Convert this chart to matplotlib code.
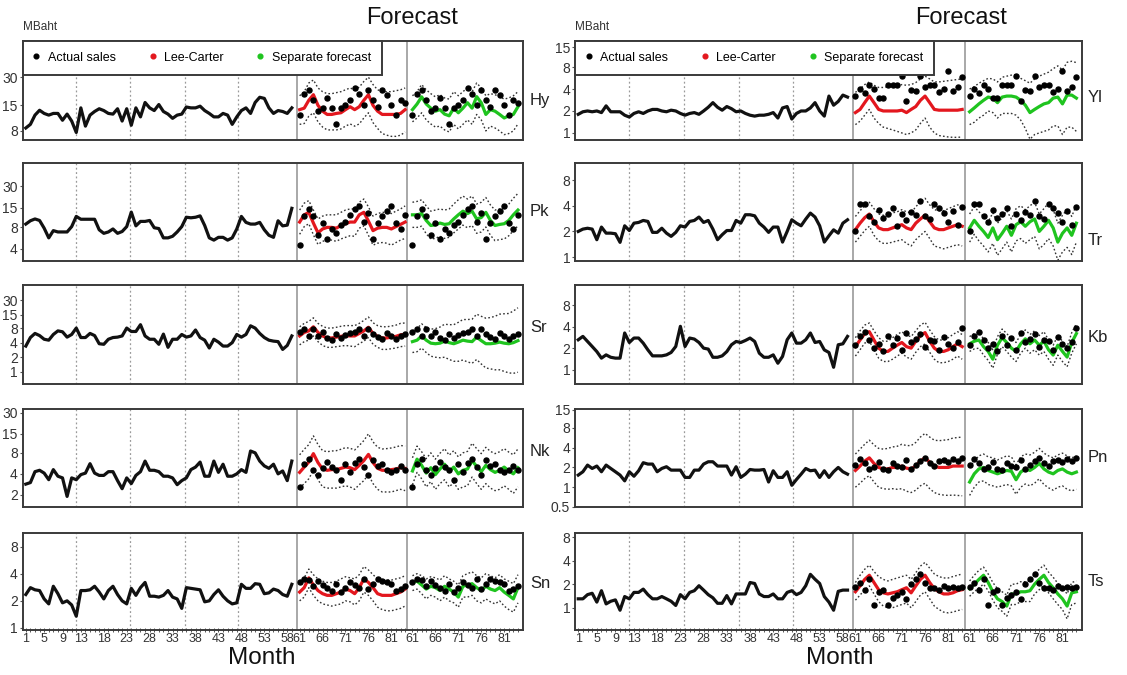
import numpy as np
import matplotlib
matplotlib.use("Agg")
import matplotlib.pyplot as plt
from matplotlib.lines import Line2D
from matplotlib.ticker import NullLocator, FixedLocator

# ---------------- data (MBaht) ----------------
hist_months = list(range(1, 60))
fc_months = list(range(61, 85))

hy_hist = [8.6, 9.4, 11.8, 13.3, 12.3, 11.8, 12.3, 12.3, 10.4, 12.1, 10.2, 7.7, 14.1, 9.0, 11.8, 12.9, 13.8, 13.2, 12.3, 12.1,
           13.8, 10.2, 13.8, 9.2, 14.1, 11.3, 16.1, 14.1, 13.2, 15.3, 12.9, 12.1, 10.9, 11.8, 12.1, 14.4, 14.1, 14.1, 14.7, 13.2,
           12.3, 11.3, 11.3, 12.3, 11.8, 9.4, 11.3, 13.2, 14.1, 12.3, 16.1, 18.3, 17.8, 14.1, 12.3, 13.2, 12.9, 12.3, 14.1]
hy_act = [11.7, 20, 22, 17, 13, 14, 18, 14, 9.4, 14, 15, 17, 23, 20, 15, 22, 17, 14.4, 22, 19.5, 15, 11.7, 17, 16]
hy_lc = [13.5, 14, 17, 19.5, 15, 13, 12, 12, 12.3, 12.5, 13.5, 14.5, 13.5, 14.5, 17, 19.5, 15, 13, 12, 12, 12, 12, 12.3, 13.5]
hy_lc_hi = [19, 21, 26, 28, 23, 21, 20, 20, 20.5, 21, 22, 23, 22, 23.5, 27, 30, 25, 22, 21, 21, 21, 21.5, 22, 23]
hy_lc_lo = [9.4, 9.6, 11.5, 12.5, 10, 8.8, 8.2, 8.2, 8.2, 8.4, 9, 9.5, 9, 9.5, 11, 12.5, 9.8, 8.5, 7.5, 7.2, 7.0, 7.0, 7.2, 7.8]
hy_sep = [13.5, 15.5, 18.5, 15.5, 14, 13, 13.5, 12.1, 11.6, 14, 12.5, 14, 16, 14, 18.6, 16, 12, 13.5, 13, 12, 11, 11.6, 12, 14.5]
hy_sep_hi = [19, 21, 25, 22, 20, 18.5, 19.5, 18, 17.5, 21, 19, 21, 23, 21, 26, 23, 19, 20, 19.5, 18.5, 17.5, 18, 19, 21]
hy_sep_lo = [10, 11, 12.5, 10.5, 9.5, 8.8, 9, 8.2, 7.8, 9.4, 8.4, 9.4, 10.5, 9.4, 12, 10.5, 8, 9, 8.6, 8, 7.3, 7.5, 8, 9.5]

pk_hist = [8.9, 9.9, 10.5, 10.0, 7.8, 5.7, 7.2, 6.9, 6.9, 6.9, 8.2, 11.4, 10.4, 10.4, 10.4, 10.4, 7.4, 6.6, 6.9, 7.6,
           6.6, 7.0, 8.2, 13.1, 8.4, 9.7, 9.7, 10.0, 7.9, 7.7, 5.7, 5.7, 6.0, 6.9, 8.2, 11.1, 10.9, 11.1, 11.6, 8.5,
           5.7, 5.3, 5.8, 5.8, 5.3, 5.7, 7.6, 11.4, 9.4, 8.9, 8.9, 9.4, 7.4, 6.2, 5.8, 9.9, 8.4, 8.6, 14.8]
pk_act = [4.5, 11.5, 14.5, 11.5, 6.3, 9.2, 5.5, 7.6, 6.7, 8.5, 9.6, 12, 14.5, 16, 9.6, 12.7, 5.5, 9.2, 11.5, 13.5, 16, 9.2, 7.6, 12]
pk_lc = [9.5, 12, 13, 9.2, 6.7, 7.6, 8, 8, 7.8, 8.5, 9, 9.5, 9.5, 12, 13, 9.8, 7.2, 7.8, 8, 8, 7.6, 8.2, 8.8, 9.5]
pk_lc_hi = [14, 17.5, 19, 14, 10.5, 11.5, 12, 12, 12, 13, 14, 14.5, 14.5, 18, 20, 15.5, 11.5, 12.5, 13, 13, 12.5, 13.5, 14.5, 16]
pk_lc_lo = [6.4, 8.2, 9, 6.3, 4.6, 5.1, 5.3, 5.3, 5.1, 5.5, 5.8, 6.1, 6, 7.8, 8.4, 6.2, 4.5, 4.8, 4.9, 4.8, 4.5, 4.9, 5.3, 5.6]
pk_sep = [12, 12, 12.5, 10, 8.5, 8.7, 9.2, 8.8, 9.0, 10.5, 12, 13.5, 12.5, 13.5, 10.5, 11, 13, 10, 8.5, 8.8, 9, 10, 12, 14]
pk_sep_hi = [18, 18.5, 19.5, 16, 13.5, 14, 14.5, 14, 14.5, 17, 19.5, 22, 20, 22, 17, 18, 21, 16.5, 14, 14.5, 15, 17, 20.5, 24]
pk_sep_lo = [8, 8, 8.3, 6.5, 5.5, 5.6, 6, 5.6, 5.8, 6.7, 7.6, 8.6, 7.9, 8.5, 6.6, 6.9, 8.1, 6.2, 5.2, 5.4, 5.5, 6.1, 7.2, 8.4]

sr_hist = [3.4, 5.1, 6.2, 5.6, 4.7, 4.5, 5.9, 7.0, 6.7, 5.2, 5.9, 8.0, 5.1, 5.1, 6.2, 5.6, 3.8, 3.7, 4.7, 5.1,
           5.2, 5.5, 8.0, 6.8, 6.8, 9.4, 5.5, 4.7, 4.7, 3.7, 6.0, 3.2, 4.7, 4.7, 5.9, 5.2, 5.5, 7.3, 5.1, 4.5,
           3.1, 4.7, 4.1, 3.4, 3.4, 4.0, 5.9, 5.2, 5.9, 8.9, 8.0, 6.2, 5.1, 4.5, 4.3, 4.2, 2.9, 3.5, 5.5]
sr_act = [6.5, 7.5, 5.5, 7.5, 5.5, 6.5, 5, 4.5, 6, 5, 5.8, 6.2, 6.5, 7.5, 5.5, 7.5, 6, 5.2, 4.8, 6.3, 5.5, 4.8, 5.5, 6]
sr_lc = [5.5, 6.5, 7, 8.5, 6.5, 5.5, 5, 5, 5.2, 5.4, 5.6, 5.5, 5.5, 6.2, 7, 8.3, 6.2, 5.4, 5, 5, 5.2, 5.4, 5.8, 5.9]
sr_lc_hi = [8.5, 10, 11, 13, 10, 8.7, 8, 8, 8.3, 8.7, 9, 9, 9, 10, 11.5, 13.5, 10.3, 9, 8.5, 8.5, 8.8, 9.2, 10, 10.2]
sr_lc_lo = [3.6, 4.2, 4.5, 5.5, 4.2, 3.5, 3.2, 3.2, 3.3, 3.4, 3.5, 3.4, 3.3, 3.8, 4.3, 5.1, 3.7, 3.2, 2.9, 2.9, 3.0, 3.1, 3.3, 3.4]
sr_sep = [4.2, 4.5, 5.5, 4.5, 3.9, 3.8, 3.9, 4.3, 4.0, 3.8, 4.1, 4.5, 4.3, 4.2, 5.2, 4.4, 3.8, 3.8, 3.9, 4.1, 3.9, 3.8, 4.0, 4.4]
sr_sep_hi = [7, 7.8, 9.8, 8.2, 7.6, 7.8, 8.4, 9.6, 9.4, 9.4, 10.5, 12, 12, 12.2, 15.5, 14, 12.8, 13.2, 14, 15.5, 15.8, 16, 18, 21]
sr_sep_lo = [2.5, 2.6, 3.1, 2.5, 2.1, 2.0, 1.95, 2.0, 1.8, 1.65, 1.65, 1.75, 1.6, 1.5, 1.8, 1.45, 1.2, 1.15, 1.1, 1.1, 1.02, 0.95, 0.93, 0.98]

nk_hist = [2.85, 3.0, 4.3, 4.5, 4.1, 3.3, 4.6, 3.7, 3.5, 1.9, 3.5, 3.3, 3.9, 4.1, 5.6, 4.1, 3.8, 3.8, 4.3, 4.3,
           3.2, 2.45, 3.5, 2.9, 3.8, 4.3, 6.1, 4.5, 4.5, 4.3, 3.7, 3.7, 3.5, 2.8, 3.2, 3.5, 4.6, 5.0, 5.9, 3.7,
           3.7, 6.1, 4.2, 5.5, 3.7, 3.7, 4.0, 4.6, 4.2, 8.5, 8.0, 6.1, 5.2, 4.8, 5.5, 4.0, 4.4, 3.2, 6.1]
nk_act = [2.6, 5.5, 6.5, 4.5, 3.8, 4.8, 6, 5, 4.6, 3.3, 5.5, 4.2, 5.8, 6.5, 5, 3.8, 6.3, 5.2, 5.5, 4.5, 4.3, 4.5, 5.2, 4.6]
nk_lc = [4.2, 5, 5.9, 7.8, 5.8, 4.7, 4.5, 4.6, 4.6, 4.8, 5.0, 4.9, 4.6, 5.3, 6.2, 7.6, 5.8, 4.8, 4.5, 4.5, 4.6, 4.7, 4.9, 4.8]
nk_lc_hi = [7.5, 9, 10.5, 14, 10.5, 8.6, 8.3, 8.5, 8.6, 9, 9.5, 9.3, 8.8, 10.2, 12, 15, 11.5, 9.6, 9.1, 9.2, 9.4, 9.7, 10.2, 10]
nk_lc_lo = [2.5, 2.9, 3.4, 4.5, 3.3, 2.6, 2.5, 2.5, 2.5, 2.6, 2.7, 2.6, 2.4, 2.8, 3.2, 3.9, 2.9, 2.4, 2.2, 2.2, 2.2, 2.3, 2.4, 2.3]
nk_sep = [4.4, 6.5, 5.3, 4.1, 4.9, 3.9, 4.7, 5.5, 4.3, 5.0, 4.0, 4.5, 4.7, 6.2, 5.1, 4.3, 5.3, 4.6, 4.2, 4.5, 5.0, 4.4, 4.0, 4.9]
nk_sep_hi = [6.8, 10, 8.3, 6.6, 8, 6.5, 7.9, 9.2, 7.4, 8.6, 7, 8, 8.4, 11, 9.2, 7.8, 9.6, 8.4, 7.8, 8.3, 9.2, 8.2, 7.5, 9.1]
nk_sep_lo = [2.8, 4.2, 3.4, 2.6, 3.1, 2.4, 2.9, 3.3, 2.6, 3.0, 2.4, 2.6, 2.7, 3.6, 2.9, 2.4, 2.9, 2.5, 2.3, 2.4, 2.7, 2.4, 2.1, 2.6]

sn_hist = [2.35, 2.8, 2.65, 2.6, 2.1, 1.85, 2.9, 2.4, 1.9, 2.0, 1.8, 1.35, 2.6, 2.6, 2.65, 2.9, 2.5, 2.1, 2.6, 2.9,
           2.35, 2.0, 1.85, 2.75, 2.3, 2.8, 3.2, 2.25, 2.25, 2.2, 2.3, 2.6, 2.2, 2.1, 1.65, 2.8, 2.75, 2.7, 2.65, 1.95,
           2.0, 2.35, 2.65, 2.25, 2.0, 1.85, 1.9, 3.05, 2.75, 2.75, 3.1, 3.05, 2.4, 2.45, 2.7, 2.6, 2.35, 2.25, 3.05]
sn_act = [3.2, 3.5, 3.4, 2.9, 3.3, 3.0, 2.8, 2.6, 3.1, 2.5, 2.8, 3.2, 3.0, 2.8, 3.5, 2.7, 3.1, 3.5, 3.3, 3.2, 3.1, 2.6, 2.7, 2.9]
sn_lc = [2.5, 2.8, 3.6, 3.0, 2.6, 2.4, 2.3, 2.3, 2.4, 2.5, 2.7, 2.6, 2.4, 2.8, 3.5, 3.2, 2.8, 2.4, 2.3, 2.3, 2.3, 2.4, 2.5, 2.7]
sn_lc_hi = [3.2, 3.6, 4.5, 3.9, 3.5, 3.3, 3.2, 3.2, 3.3, 3.5, 3.7, 3.6, 3.5, 3.9, 4.8, 4.4, 3.9, 3.5, 3.4, 3.4, 3.4, 3.5, 3.6, 3.8]
sn_lc_lo = [2.0, 2.2, 2.8, 2.3, 2.0, 1.85, 1.8, 1.75, 1.8, 1.85, 2.0, 1.95, 1.8, 2.0, 2.5, 2.3, 2.0, 1.7, 1.6, 1.55, 1.55, 1.6, 1.65, 1.75]
sn_sep = [3.2, 3.3, 3.0, 2.7, 2.9, 2.8, 2.6, 2.9, 2.7, 2.5, 2.2, 2.9, 3.0, 3.1, 2.8, 2.6, 2.9, 2.7, 2.6, 2.8, 2.5, 2.3, 2.1, 2.8]
sn_sep_hi = [3.8, 4.0, 3.8, 3.5, 3.7, 3.6, 3.4, 3.8, 3.5, 3.3, 3.0, 3.8, 4.0, 4.2, 3.8, 3.6, 4.0, 3.8, 3.6, 3.9, 3.5, 3.3, 3.1, 3.9]
sn_sep_lo = [2.6, 2.7, 2.4, 2.1, 2.3, 2.2, 2.0, 2.2, 2.0, 1.9, 1.7, 2.2, 2.2, 2.3, 2.0, 1.9, 2.1, 1.95, 1.85, 2.0, 1.75, 1.6, 1.5, 1.9]

yl_hist = [1.8, 1.95, 2.0, 1.95, 2.0, 1.9, 2.35, 1.95, 1.95, 1.95, 1.75, 1.65, 1.85, 1.95, 1.85, 2.0, 2.1, 2.1, 2.0, 1.95,
           2.05, 2.0, 1.85, 1.75, 1.85, 1.9, 1.8, 2.0, 2.25, 2.6, 2.25, 2.05, 2.3, 2.15, 1.95, 2.0, 1.85, 1.75, 1.7, 1.75,
           1.75, 1.8, 1.9, 1.6, 2.2, 2.3, 1.55, 1.85, 2.0, 2.0, 2.2, 2.6, 2.0, 1.7, 3.2, 2.4, 2.7, 3.3, 3.1]
yl_act = [3.2, 4.0, 3.5, 4.5, 4.0, 3.0, 3.0, 4.5, 4.6, 4.5, 6.0, 2.7, 3.9, 3.8, 6.0, 4.2, 4.6, 4.5, 3.6, 4.0, 7.0, 3.7, 4.2, 5.8]
yl_lc = [1.9, 2.1, 2.6, 3.2, 2.6, 2.1, 2.0, 2.0, 2.0, 2.0, 2.05, 1.9, 2.1, 2.3, 2.8, 3.2, 2.6, 2.1, 2.05, 2.05, 2.05, 2.05, 2.05, 2.1]
yl_lc_hi = [3.6, 4.0, 4.6, 5.0, 4.5, 4.2, 4.2, 4.3, 4.3, 4.4, 4.6, 4.5, 4.6, 4.9, 5.5, 6.0, 5.5, 5.0, 5.0, 5.1, 5.2, 5.3, 5.4, 5.5]
yl_lc_lo = [1.3, 1.45, 1.75, 2.1, 1.6, 1.35, 1.2, 1.15, 1.1, 1.05, 1.0, 0.95, 1.0, 1.1, 1.35, 1.6, 1.2, 1.0, 0.92, 0.9, 0.88, 0.87, 0.87, 0.88]
yl_sep = [1.95, 2.2, 2.5, 2.8, 3.1, 3.0, 2.6, 3.1, 3.2, 3.2, 3.1, 2.8, 2.4, 1.9, 2.1, 2.3, 2.5, 2.6, 3.0, 3.1, 2.5, 3.3, 3.3, 3.0]
yl_sep_hi = [4.0, 4.3, 4.8, 5.2, 5.6, 5.5, 5.0, 5.8, 6.0, 6.2, 6.3, 5.6, 5.2, 4.8, 5.5, 6.0, 6.4, 6.8, 7.6, 8.3, 7.3, 9.3, 9.6, 9.2]
yl_sep_lo = [1.3, 1.4, 1.6, 1.75, 2.0, 1.9, 1.6, 1.85, 1.85, 1.85, 1.75, 1.5, 1.15, 0.82, 0.95, 1.0, 1.05, 1.1, 1.25, 1.25, 0.95, 1.2, 1.2, 1.05]

tr_hist = [2.0, 2.13, 2.18, 2.13, 1.6, 2.25, 1.91, 1.91, 1.88, 1.49, 2.33, 2.05, 2.5, 2.55, 2.69, 2.62, 1.95, 1.95, 2.18, 1.91,
           1.75, 1.95, 2.33, 2.25, 2.62, 2.69, 2.95, 2.55, 2.69, 2.13, 1.6, 1.83, 2.05, 2.05, 2.69, 2.5, 3.14, 3.14, 3.05, 2.5,
           2.25, 1.95, 2.25, 2.25, 1.5, 2.0, 2.74, 2.5, 2.33, 2.79, 3.28, 2.95, 2.33, 1.5, 1.78, 2.09, 1.91, 2.5, 2.74]
tr_act = [2.0, 4.2, 4.2, 3.0, 2.6, 3.6, 2.9, 3.2, 3.8, 2.3, 3.2, 2.7, 3.4, 3.1, 4.5, 3.0, 2.8, 4.2, 3.8, 3.3, 2.6, 3.5, 2.4, 3.9]
tr_lc = [2.1, 2.5, 2.9, 3.2, 2.6, 2.2, 2.1, 2.1, 2.2, 2.3, 2.4, 2.2, 2.1, 2.5, 2.8, 3.1, 2.6, 2.2, 2.1, 2.1, 2.2, 2.3, 2.4, 2.3]
tr_lc_hi = [3.0, 3.5, 4.0, 4.4, 3.7, 3.2, 3.1, 3.1, 3.3, 3.4, 3.6, 3.4, 3.3, 3.9, 4.4, 4.9, 4.1, 3.6, 3.5, 3.5, 3.7, 3.9, 4.1, 4.0]
tr_lc_lo = [1.5, 1.75, 2.05, 2.3, 1.8, 1.55, 1.45, 1.45, 1.5, 1.55, 1.6, 1.45, 1.35, 1.6, 1.8, 2.0, 1.65, 1.35, 1.3, 1.25, 1.3, 1.35, 1.4, 1.35]
tr_sep = [2.2, 2.7, 2.3, 2.0, 1.7, 2.2, 1.6, 1.9, 2.3, 1.8, 2.4, 2.6, 2.3, 2.6, 2.8, 2.0, 2.3, 2.7, 2.2, 1.5, 1.9, 2.2, 1.8, 2.5]
tr_sep_hi = [3.2, 3.9, 3.4, 3.0, 2.6, 3.3, 2.5, 2.9, 3.5, 2.8, 3.7, 4.0, 3.6, 4.0, 4.4, 3.2, 3.7, 4.3, 3.6, 2.5, 3.1, 3.6, 3.0, 4.1]
tr_sep_lo = [1.5, 1.85, 1.55, 1.35, 1.15, 1.45, 1.05, 1.25, 1.5, 1.15, 1.55, 1.65, 1.45, 1.6, 1.75, 1.25, 1.4, 1.65, 1.35, 0.92, 1.15, 1.3, 1.07, 1.5]

kb_hist = [2.62, 2.92, 2.48, 2.11, 1.79, 1.45, 1.61, 1.49, 1.45, 1.45, 3.26, 2.4, 2.77, 2.77, 2.35, 1.89, 1.56, 1.56, 1.56, 1.61,
           1.74, 2.11, 4.04, 2.11, 2.77, 2.68, 2.4, 2.0, 1.94, 1.49, 1.49, 1.56, 1.79, 2.23, 2.48, 2.4, 2.56, 2.77, 2.48, 1.7,
           1.49, 1.49, 1.61, 1.23, 1.53, 2.62, 3.26, 2.35, 2.35, 2.62, 3.26, 2.4, 2.48, 1.89, 1.74, 1.08, 2.23, 2.3, 2.92]
kb_act = [2.2, 3.0, 3.4, 2.6, 2.0, 2.3, 1.8, 3.0, 2.2, 2.8, 1.9, 3.3, 2.4, 2.7, 3.2, 2.1, 2.6, 2.5, 1.9, 2.9, 2.3, 2.0, 2.4, 3.8]
kb_lc = [2.1, 2.6, 3.2, 3.4, 2.6, 2.0, 1.8, 1.8, 2.0, 2.2, 2.4, 2.1, 2.0, 2.5, 3.0, 3.3, 2.5, 2.0, 1.8, 1.8, 1.9, 2.1, 2.3, 2.1]
kb_lc_hi = [2.8, 3.5, 4.2, 4.5, 3.5, 2.8, 2.5, 2.5, 2.8, 3.1, 3.4, 3.0, 2.9, 3.5, 4.2, 4.6, 3.6, 2.9, 2.6, 2.6, 2.8, 3.1, 3.4, 3.1]
kb_lc_lo = [1.55, 1.9, 2.35, 2.5, 1.9, 1.45, 1.3, 1.3, 1.4, 1.55, 1.7, 1.5, 1.4, 1.75, 2.1, 2.3, 1.75, 1.4, 1.25, 1.25, 1.3, 1.4, 1.55, 1.4]
kb_sep = [2.3, 2.5, 2.6, 2.1, 1.8, 1.4, 2.2, 2.8, 2.4, 2.0, 1.8, 2.3, 2.7, 2.3, 2.6, 2.2, 2.5, 1.9, 1.6, 2.2, 1.8, 1.5, 2.4, 3.2]
kb_sep_hi = [2.9, 3.2, 3.3, 2.7, 2.4, 1.9, 2.9, 3.7, 3.2, 2.7, 2.4, 3.1, 3.6, 3.1, 3.5, 3.0, 3.4, 2.6, 2.2, 3.0, 2.5, 2.1, 3.3, 4.4]
kb_sep_lo = [1.8, 1.95, 2.0, 1.6, 1.35, 1.05, 1.65, 2.1, 1.8, 1.5, 1.3, 1.7, 2.0, 1.7, 1.9, 1.6, 1.8, 1.4, 1.15, 1.6, 1.3, 1.1, 1.7, 2.3]

pn_hist = [1.53, 1.72, 2.17, 1.93, 2.1, 1.72, 2.17, 1.93, 1.72, 1.53, 1.25, 1.72, 1.47, 1.78, 2.36, 2.25, 2.25, 1.72, 1.93, 2.05,
           1.82, 1.82, 1.82, 1.41, 1.41, 1.82, 1.82, 2.25, 2.44, 2.44, 2.1, 2.1, 2.1, 1.53, 2.05, 1.41, 1.58, 1.86, 1.82, 1.82,
           1.86, 1.2, 1.78, 1.41, 1.41, 1.72, 1.07, 1.31, 1.58, 1.93, 1.78, 1.82, 1.41, 1.78, 1.41, 1.72, 2.0, 1.72, 1.58]
pn_act = [2.2, 2.7, 2.3, 1.9, 2.0, 2.4, 1.9, 1.8, 2.3, 2.1, 2.0, 2.6, 1.9, 2.2, 2.5, 2.8, 2.3, 2.1, 2.5, 2.6, 2.4, 2.7, 2.5, 2.8]
pn_lc = [1.8, 2.1, 2.5, 2.8, 2.3, 2.0, 1.9, 1.9, 2.0, 2.0, 2.1, 1.95, 1.9, 2.1, 2.5, 2.8, 2.4, 2.1, 2.0, 2.0, 2.0, 2.1, 2.1, 2.1]
pn_lc_hi = [3.2, 3.8, 4.5, 5.2, 4.4, 3.9, 3.8, 3.9, 4.1, 4.2, 4.5, 4.3, 4.3, 4.8, 5.8, 6.6, 5.8, 5.2, 5.1, 5.2, 5.3, 5.6, 5.7, 5.8]
pn_lc_lo = [1.0, 1.15, 1.35, 1.5, 1.2, 1.0, 0.95, 0.93, 0.95, 0.93, 0.95, 0.87, 0.83, 0.9, 1.05, 1.15, 0.95, 0.83, 0.78, 0.76, 0.75, 0.76, 0.75, 0.74]
pn_sep = [1.2, 1.6, 1.9, 2.0, 1.8, 1.7, 1.6, 1.7, 1.8, 1.75, 1.3, 1.7, 1.9, 1.8, 2.0, 2.3, 1.9, 1.7, 1.6, 1.8, 1.9, 1.7, 1.6, 1.7]
pn_sep_hi = [2.0, 2.5, 3.0, 3.2, 2.9, 2.8, 2.6, 2.8, 3.0, 2.9, 2.2, 2.9, 3.2, 3.1, 3.4, 3.9, 3.3, 3.0, 2.8, 3.1, 3.3, 3.0, 2.8, 3.0]
pn_sep_lo = [0.75, 1.0, 1.2, 1.25, 1.1, 1.05, 1.0, 1.05, 1.1, 1.05, 0.78, 1.0, 1.12, 1.05, 1.15, 1.35, 1.1, 0.98, 0.9, 1.0, 1.05, 0.93, 0.88, 0.93]

ts_hist = [1.3, 1.3, 1.47, 1.53, 1.18, 1.65, 1.12, 1.21, 1.26, 0.93, 1.39, 1.3, 1.57, 1.57, 1.73, 1.47, 1.3, 1.3, 1.39, 1.3,
           1.21, 1.07, 1.47, 1.3, 1.57, 1.65, 1.91, 1.68, 1.47, 1.34, 1.14, 1.14, 1.43, 1.12, 1.5, 1.5, 1.5, 2.1, 2.04, 1.5,
           1.39, 1.39, 1.5, 1.3, 1.3, 1.57, 1.65, 1.47, 1.57, 1.91, 2.67, 2.31, 2.04, 1.39, 1.18, 0.93, 1.62, 1.68, 1.68]
ts_act = [1.85, 2.05, 1.7, 2.3, 1.1, 1.6, 1.7, 1.1, 1.35, 1.45, 1.6, 1.3, 2.0, 2.3, 2.7, 2.1, 1.8, 1.8, 1.7, 1.9, 1.8, 1.85, 1.8, 1.85]
ts_lc = [1.6, 1.9, 2.3, 2.6, 2.1, 1.7, 1.55, 1.5, 1.55, 1.6, 1.7, 1.8, 1.55, 1.9, 2.3, 2.6, 2.1, 1.75, 1.6, 1.5, 1.5, 1.55, 1.65, 1.7]
ts_lc_hi = [2.1, 2.6, 3.1, 3.5, 2.9, 2.5, 2.3, 2.2, 2.3, 2.4, 2.5, 2.6, 2.3, 2.8, 3.4, 3.8, 3.2, 2.7, 2.5, 2.4, 2.4, 2.5, 2.6, 2.7]
ts_lc_lo = [1.25, 1.45, 1.7, 1.9, 1.5, 1.2, 1.05, 1.0, 1.0, 1.05, 1.1, 1.15, 1.0, 1.2, 1.45, 1.6, 1.3, 1.05, 0.95, 0.88, 0.86, 0.88, 0.92, 0.95]
ts_sep = [1.75, 2.0, 2.3, 2.6, 2.1, 1.6, 1.3, 1.2, 1.05, 1.5, 1.5, 1.6, 1.6, 1.65, 2.0, 2.3, 2.6, 2.1, 1.8, 1.5, 1.3, 1.05, 1.55, 1.6]
ts_sep_hi = [2.2, 2.6, 3.0, 3.3, 2.7, 2.1, 1.75, 1.6, 1.45, 2.0, 2.0, 2.15, 2.15, 2.2, 2.7, 3.1, 3.5, 2.85, 2.45, 2.05, 1.8, 1.5, 2.1, 2.2]
ts_sep_lo = [1.4, 1.6, 1.8, 2.0, 1.65, 1.25, 1.0, 0.9, 0.78, 1.1, 1.1, 1.2, 1.2, 1.2, 1.5, 1.7, 1.95, 1.55, 1.3, 1.1, 0.95, 0.72, 1.1, 1.15]

hist_tick_labels = [1, 5, 9, 13, 18, 23, 28, 33, 38, 43, 48, 53, 58]
fc_tick_labels = [61, 66, 71, 76, 81]

# ---------------- layout / styling ----------------
W, H = 1127, 675
RED = "#e3171e"
GREEN = "#1fc41f"
DOT = (0, (1.2, 1.6))
TICK_FONT = ["Liberation Sans Narrow", "Liberation Sans", "DejaVu Sans"]
plt.rcParams["font.family"] = ["Liberation Sans", "DejaVu Sans"]

# (name, data lists, ylim, yticks)
left_panels = [
    ("Hy", hy_hist, hy_act, hy_lc, hy_lc_lo, hy_lc_hi, hy_sep, hy_sep_lo, hy_sep_hi, (6.4, 73), [8, 15, 30]),
    ("Pk", pk_hist, pk_act, pk_lc, pk_lc_lo, pk_lc_hi, pk_sep, pk_sep_lo, pk_sep_hi, (2.7, 64), [4, 8, 15, 30]),
    ("Sr", sr_hist, sr_act, sr_lc, sr_lc_lo, sr_lc_hi, sr_sep, sr_sep_lo, sr_sep_hi, (0.56, 62), [1, 2, 4, 8, 15, 30]),
    ("Nk", nk_hist, nk_act, nk_lc, nk_lc_lo, nk_lc_hi, nk_sep, nk_sep_lo, nk_sep_hi, (1.34, 34), [2, 4, 8, 15, 30]),
    ("Sn", sn_hist, sn_act, sn_lc, sn_lc_lo, sn_lc_hi, sn_sep, sn_sep_lo, sn_sep_hi, (0.95, 11.3), [1, 2, 4, 8]),
]
right_panels = [
    ("Yl", yl_hist, yl_act, yl_lc, yl_lc_lo, yl_lc_hi, yl_sep, yl_sep_lo, yl_sep_hi, (0.8, 18.2), [1, 2, 4, 8, 15]),
    ("Tr", tr_hist, tr_act, tr_lc, tr_lc_lo, tr_lc_hi, tr_sep, tr_sep_lo, tr_sep_hi, (0.9, 12.7), [1, 2, 4, 8]),
    ("Kb", kb_hist, kb_act, kb_lc, kb_lc_lo, kb_lc_hi, kb_sep, kb_sep_lo, kb_sep_hi, (0.63, 15.3), [1, 2, 4, 8]),
    ("Pn", pn_hist, pn_act, pn_lc, pn_lc_lo, pn_lc_hi, pn_sep, pn_sep_lo, pn_sep_hi, (0.5, 15.5), [0.5, 1, 2, 4, 8, 15]),
    ("Ts", ts_hist, ts_act, ts_lc, ts_lc_lo, ts_lc_hi, ts_sep, ts_sep_lo, ts_sep_hi, (0.52, 9), [1, 2, 4, 8]),
]

rows_px = [(41, 140), (163, 261), (285, 384), (409, 507), (533, 630)]
label_y_left = [101, 212, 328, 452, 583]
label_y_right = [97, 240, 338, 458, 582]

# x positions: history at its month, the two forecast blocks follow
hx = np.array(hist_months, dtype=float)
lcx = np.array(fc_months, dtype=float) - 0.3
spx = np.array(fc_months, dtype=float) + 24.3
XLIM = (0.3, 109.4)
SEP_LINES = [60.2, 84.2]
GRID_LINES = [12.0, 23.8, 35.6, 47.3]


def fmt(v):
    return str(int(v)) if float(v).is_integer() else str(v)


def draw_panel(ax, p, bottom):
    name, hist, act, lc, lc_lo, lc_hi, sep, sep_lo, sep_hi, ylim, yt = p
    ax.set_yscale("log")
    for g in GRID_LINES:
        ax.axvline(g, color="#9a9a9a", lw=0.9, ls=(0, (1.5, 2.0)), zorder=1)
    for s in SEP_LINES:
        ax.axvline(s, color="#a8a8a8", lw=1.4, zorder=1)
    ax.plot(hx, hist, color="#111111", lw=2.3, zorder=3)
    ax.plot(lcx, lc_hi, color="#333333", lw=1.0, ls=DOT, zorder=2)
    ax.plot(lcx, lc_lo, color="#333333", lw=1.0, ls=DOT, zorder=2)
    ax.plot(lcx, lc, color=RED, lw=2.3, zorder=3)
    ax.plot(spx, sep_hi, color="#333333", lw=1.0, ls=DOT, zorder=2)
    ax.plot(spx, sep_lo, color="#333333", lw=1.0, ls=DOT, zorder=2)
    ax.plot(spx, sep, color=GREEN, lw=2.3, zorder=3)
    ax.plot(lcx, act, "o", color="black", ms=3.6, zorder=4)
    ax.plot(spx, act, "o", color="black", ms=3.6, zorder=4)

    ax.set_xlim(*XLIM)
    ax.set_ylim(*ylim)
    ax.yaxis.set_major_locator(FixedLocator(yt))
    ax.yaxis.set_minor_locator(NullLocator())
    ax.set_yticklabels([fmt(v) for v in yt])
    ax.tick_params(axis="y", direction="out", length=2.5, width=0.8, pad=1,
                   labelsize=10, labelcolor="#333333", color="#555555")
    for lab in ax.get_yticklabels():
        lab.set_family(TICK_FONT)
    for sp in ax.spines.values():
        sp.set_color("#3a3a3a")
        sp.set_linewidth(1.4)

    if bottom:
        major = list(hist_tick_labels) + [m - 0.3 for m in fc_tick_labels] + [m + 24.3 for m in fc_tick_labels]
        labels = [str(m) for m in hist_tick_labels] + [str(m) for m in fc_tick_labels] * 2
        ax.set_xticks(major)
        ax.set_xticklabels(labels)
        minor = list(hx) + list(lcx) + list(spx)
        ax.xaxis.set_minor_locator(FixedLocator(minor))
        ax.tick_params(axis="x", which="both", direction="inout", length=3.5, width=0.7,
                       color="#555555", pad=0.5, labelsize=9, labelcolor="#333333")
        for lab in ax.get_xticklabels():
            lab.set_family(TICK_FONT)
    else:
        ax.set_xticks([])
        ax.xaxis.set_minor_locator(NullLocator())


fig = plt.figure(figsize=(W / 100, H / 100), dpi=100)

columns = [
    (22.6, 523.0, left_panels, label_y_left, 530, 412, 262),
    (575.0, 1081.5, right_panels, label_y_right, 1088, 961, 840),
]

for x0, x1, panels, lab_y, lab_x, fc_x, month_x in columns:
    top_ax = None
    for i, p in enumerate(panels):
        t, b = rows_px[i]
        ax = fig.add_axes([x0 / W, 1 - b / H, (x1 - x0) / W, (b - t) / H])
        draw_panel(ax, p, i == len(panels) - 1)
        fig.text(lab_x / W, 1 - lab_y[i] / H, p[0], fontsize=12, ha="left", va="center", color="#222222")
        if i == 0:
            top_ax = ax
    handles = [Line2D([], [], ls="", marker="o", ms=3.4, color=c) for c in ("black", RED, GREEN)]
    leg = top_ax.legend(handles, ["Actual sales", "Lee-Carter", "Separate forecast"], loc="upper left",
                        bbox_to_anchor=(0, 1), ncol=3, fontsize=9, frameon=True, fancybox=False,
                        borderaxespad=0, borderpad=0.86, handlelength=0.5, handletextpad=0.65,
                        columnspacing=2.7, edgecolor="#3a3a3a", framealpha=1)
    leg.get_frame().set_linewidth(1.4)
    leg.set_zorder(10)
    fig.text(x0 / W, 1 - 27 / H, "MBaht", fontsize=8.5, ha="left", va="center", color="#333333")
    fig.text(fc_x / W, 1 - 18 / H, "Forecast", fontsize=17, ha="center", va="center", color="#111111")
    fig.text(month_x / W, 1 - 658 / H, "Month", fontsize=17.5, ha="center", va="center", color="#111111")

fig.savefig("out.png", dpi=100)
